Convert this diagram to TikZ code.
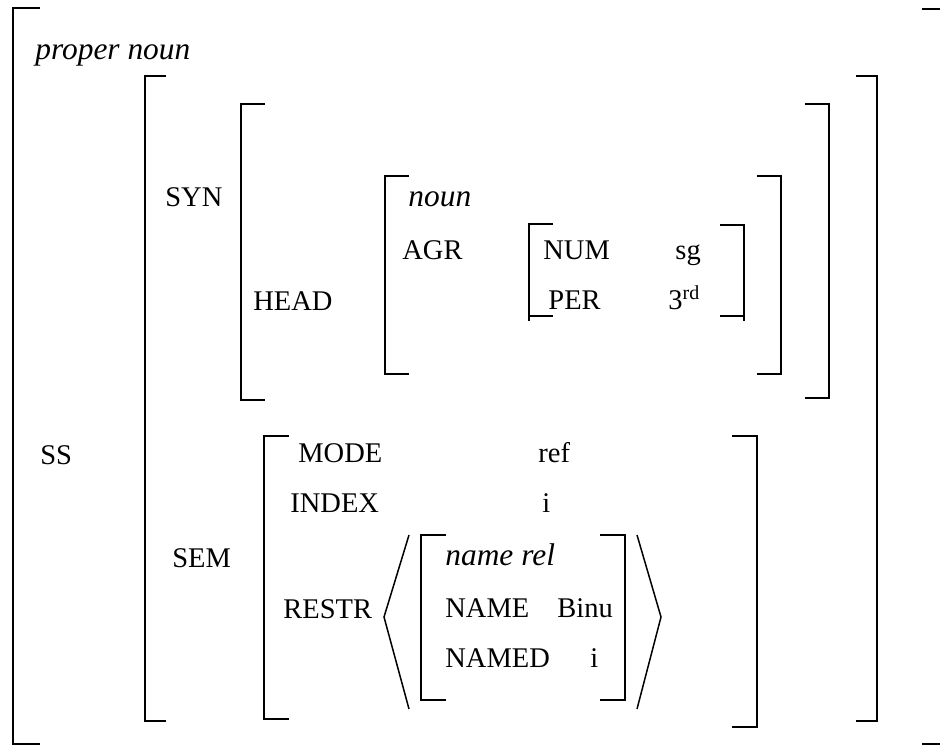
\documentclass[tikz,border=0pt]{standalone}
\usepackage{fontspec}
\setmainfont{Liberation Serif}
\usepackage{tikz}

\begin{document}
\begin{tikzpicture}[x=0.5pt,y=-0.5pt,
  feat/.style={anchor=base west,inner sep=0pt,font=\fontsize{14.25pt}{17pt}\selectfont},
  type/.style={feat,font=\fontsize{15.7pt}{19pt}\selectfont\itshape},
  brk/.style={line width=1pt},
  ang/.style={line width=0.75pt}]
\useasboundingbox (0,0) rectangle (940,747);

% outer brackets
\draw[brk] (40,8) -- (13,8) -- (13,744) -- (40,744);
\draw[brk] (922,9) -- (940,9);
\draw[brk] (922,744) -- (940,744);
\node[type] (pn) at (35,60) {proper noun};
\node[feat] (ss) at (40,465) {SS};

% SS value
\draw[brk] (166,76) -- (145,76) -- (145,721) -- (166,721);
\draw[brk] (856,76) -- (877,76) -- (877,721) -- (856,721);

% SYN
\node[feat] (syn) at (165,207) {SYN};
\draw[brk] (265,104) -- (241,104) -- (241,400) -- (265,400);
\draw[brk] (805,104) -- (829,104) -- (829,398) -- (805,398);
\node[feat] (head) at (253,311) {HEAD};
\draw[brk] (409,176) -- (385,176) -- (385,374) -- (409,374);
\draw[brk] (757,176) -- (781,176) -- (781,374) -- (757,374);
\node[type] (noun) at (408,207) {noun};
\node[feat] (agr) at (402,260) {AGR};
\draw[brk] (553,224) -- (529,224) -- (529,321);
\draw[brk] (529,316) -- (553,316);
\draw[brk] (720,225) -- (744,225) -- (744,321);
\draw[brk] (720,316) -- (744,316);
\node[feat] (num) at (543,260) {NUM};
\node[feat] (sg) at (675,260) {sg};
\node[feat] (per) at (548,310) {PER};
\node[feat] (third) at (668,310) {3\textsuperscript{rd}};

% SEM
\node[feat] (sem) at (172,567) {SEM};
\draw[brk] (289,436) -- (264,436) -- (264,719) -- (289,719);
\draw[brk] (732,436) -- (757,436) -- (757,727) -- (732,727);
\node[feat] (mode) at (298,463) {MODE};
\node[feat] (ref) at (538,463) {ref};
\node[feat] (index) at (290,512) {INDEX};
\node[feat] (idx) at (542,512) {i};
\node[feat] (restr) at (283,618) {RESTR};
\draw[ang] (409,535) -- (384,617) -- (409,709);
\draw[ang] (637,535) -- (661,617) -- (637,709);
\draw[brk] (446,535) -- (421,535) -- (421,700) -- (446,700);
\draw[brk] (600,535) -- (625,535) -- (625,700) -- (600,700);
\node[type] (rel) at (445,565) {name rel};
\node[feat] (name) at (445,617) {NAME};
\node[feat] (binu) at (557,617) {Binu};
\node[feat] (named) at (445,667) {NAMED};
\node[feat] (ni) at (590,667) {i};
\end{tikzpicture}
\end{document}
